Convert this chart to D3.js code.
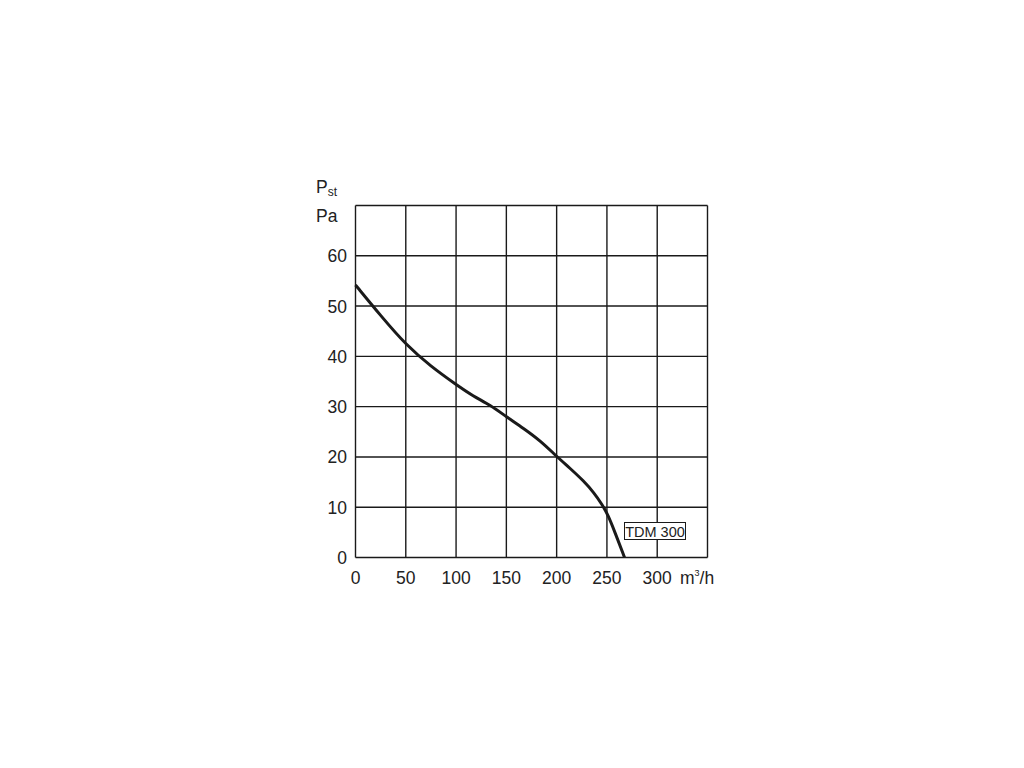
<!DOCTYPE html>
<html><head><meta charset="utf-8">
<script src="https://cdn.jsdelivr.net/npm/d3@7"></script>
<style>body{margin:0;background:#fff;}svg{display:block;}</style>
</head><body>
<svg id="c" width="1024" height="768"></svg>
<script>
const xTicks = [0, 50, 100, 150, 200, 250, 300];
const yTicks = [0, 10, 20, 30, 40, 50, 60];
const flow = [0, 25, 50, 75, 100, 117, 134, 150, 167, 184, 200, 213, 227, 237, 245, 251, 258, 267.5];
const pressure = [54.2, 48.1, 42.3, 38.0, 34.4, 32.1, 30.3, 28.0, 25.7, 23.2, 20.1, 17.8, 15.2, 12.9, 10.6, 8.5, 5.0, 0];
const seriesLabel = "TDM 300";

const svg = d3.select("#c");
const x = d3.scaleLinear().domain([0, 350]).range([355.5, 707.5]);
const y = d3.scaleLinear().domain([0, 70]).range([557.5, 205.5]);
const font = "Liberation Sans, Arial, sans-serif";

// grid
const g = svg.append("g").attr("stroke", "#1a1a1a").attr("stroke-width", 1.4).attr("fill", "none");
d3.range(0, 351, 50).forEach(v => g.append("line").attr("x1", x(v)).attr("x2", x(v)).attr("y1", y(0)).attr("y2", y(70)));
d3.range(0, 71, 10).forEach(v => g.append("line").attr("x1", x(0)).attr("x2", x(350)).attr("y1", y(v)).attr("y2", y(v)));

// tick labels
svg.append("g").selectAll("text").data(yTicks).join("text")
  .attr("x", 347).attr("y", d => y(d) + 6.5).attr("text-anchor", "end")
  .attr("font-family", font).attr("font-size", 17.5).attr("fill", "#222").text(d => d);
svg.append("g").selectAll("text").data(xTicks).join("text")
  .attr("x", d => x(d)).attr("y", 584).attr("text-anchor", "middle")
  .attr("font-family", font).attr("font-size", 17.5).attr("fill", "#222").text(d => d);

// axis titles
const pst = svg.append("text").attr("x", 316).attr("y", 193).attr("font-family", font).attr("font-size", 17.5).attr("fill", "#222");
pst.append("tspan").text("P");
pst.append("tspan").attr("font-size", 12).attr("dy", 3).text("st");
svg.append("text").attr("x", 316).attr("y", 222).attr("font-family", font).attr("font-size", 17.5).attr("fill", "#222").text("Pa");
const unit = svg.append("text").attr("x", 680).attr("y", 584).attr("font-family", font).attr("font-size", 17.5).attr("fill", "#222");
unit.append("tspan").text("m");
unit.append("tspan").attr("font-size", 9).attr("dy", -8).text("3");
unit.append("tspan").attr("dy", 8).text("/h");

// curve
const line = d3.line().x((d, i) => x(flow[i])).y(d => y(d)).curve(d3.curveBasis);
svg.append("path").datum(pressure).attr("d", line).attr("fill", "none")
  .attr("stroke", "#1a1a1a").attr("stroke-width", 3);

// label box
svg.append("rect").attr("x", 624.5).attr("y", 522.5).attr("width", 61).attr("height", 17)
  .attr("fill", "#fff").attr("stroke", "#1a1a1a").attr("stroke-width", 1);
svg.append("text").attr("x", 655).attr("y", 536.5).attr("text-anchor", "middle")
  .attr("font-family", font).attr("font-size", 14.5).attr("fill", "#222").text(seriesLabel);
</script>
</body></html>
